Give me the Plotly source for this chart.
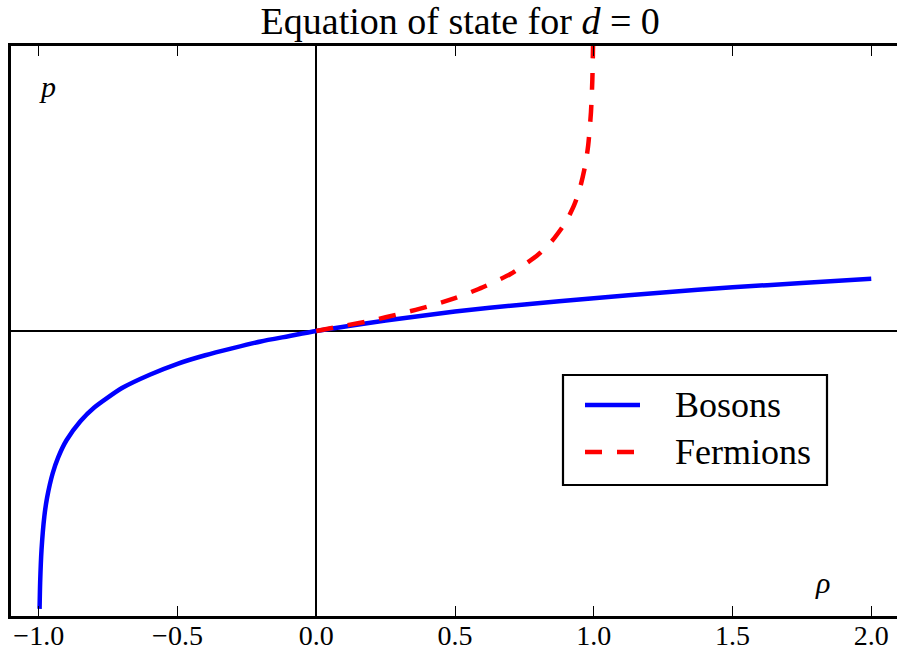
import plotly.graph_objects as go

# Equation of state p(rho) for d = 0
boson_rho = [-0.997, -0.995, -0.99, -0.98, -0.97, -0.95, -0.93, -0.90, -0.85, -0.80,
             -0.70, -0.60, -0.50, -0.40, -0.30, -0.20, -0.10, 0.0, 0.25, 0.50,
             0.75, 1.00, 1.25, 1.50, 1.75, 2.00]
boson_p = [-5.85, -5.30, -4.61, -3.91, -3.51, -3.00, -2.66, -2.30, -1.90, -1.61,
           -1.20, -0.92, -0.69, -0.51, -0.36, -0.22, -0.11, 0.0, 0.22, 0.41,
           0.56, 0.69, 0.81, 0.92, 1.01, 1.10]

fermion_rho = [0.0, 0.10, 0.20, 0.30, 0.40, 0.50, 0.60, 0.70, 0.80, 0.85,
               0.90, 0.93, 0.95, 0.97, 0.98, 0.99, 0.995, 0.998]
fermion_p = [0.0, 0.11, 0.22, 0.36, 0.51, 0.69, 0.92, 1.20, 1.61, 1.90,
             2.30, 2.66, 3.00, 3.51, 3.91, 4.61, 5.30, 6.21]

x_ticks = [-1.0, -0.5, 0.0, 0.5, 1.0, 1.5, 2.0]
x_tick_text = ["\u22121.0", "\u22120.5", "0.0", "0.5", "1.0", "1.5", "2.0"]

series_names = ["Bosons", "Fermions"]
series_colors = ["#0000ff", "#ff0000"]
series_dash = ["solid", "17px,15px"]

SERIF = "'Liberation Serif', 'DejaVu Serif', serif"
W, H = 897, 652
L, T, B = 11, 46, 36
LINE_W = 4.5

fig = go.Figure()
for name, xs, ys, color, dash in zip(series_names,
                                     [boson_rho, fermion_rho],
                                     [boson_p, fermion_p],
                                     series_colors, series_dash):
    fig.add_trace(go.Scatter(
        x=xs, y=ys, mode="lines", name=name, showlegend=False,
        line=dict(color=color, width=LINE_W, dash=dash, shape="spline", smoothing=0.6),
    ))

fig.update_layout(
    width=W, height=H,
    margin=dict(l=L, r=0, t=T, b=B, autoexpand=False),
    paper_bgcolor="white", plot_bgcolor="white",
    font=dict(family=SERIF, color="black"),
    title=dict(
        text="Equation of state for <i>d</i> = 0",
        x=0.507, xanchor="center", xref="paper",
        y=1 - 21 / H, yanchor="middle", yref="container",
        font=dict(size=38, family=SERIF, color="black"),
    ),
    showlegend=False,
)

fig.update_xaxes(
    range=[-1.1, -1.1 + (W - L) / 277.5],
    tickvals=x_ticks, ticktext=x_tick_text,
    ticks="inside", ticklen=10, tickwidth=1.2, tickcolor="black",
    showline=True, linecolor="black", linewidth=2.6, mirror="allticks",
    showgrid=False, automargin=False, ticklabelstandoff=-7,
    zeroline=True, zerolinecolor="black", zerolinewidth=2.4,
    tickfont=dict(size=28, family=SERIF, color="black"),
)
fig.update_yaxes(
    range=[-6, 6],
    showticklabels=False, ticks="",
    showline=True, linecolor="black", linewidth=2.6, mirror=False,
    showgrid=False, automargin=False,
    zeroline=True, zerolinecolor="black", zerolinewidth=2.4,
)

# axis-name labels inside the plot
fig.add_annotation(x=-1.005, y=5.15, xref="x", yref="y", text="<i>p</i>",
                   showarrow=False, xanchor="left", yanchor="middle",
                   font=dict(size=30, family=SERIF, color="black"))
fig.add_annotation(x=1.79, y=-5.3, xref="x", yref="y", text="<i>\u03c1</i>",
                   showarrow=False, xanchor="left", yanchor="middle",
                   font=dict(size=30, family=SERIF, color="black"))

# legend box with line samples, in paper coordinates
pw, ph = W - L, H - T - B
def px(xp):
    return (xp - L) / pw
def py(yp):
    return 1 - (yp - T) / ph

fig.add_shape(type="rect", xref="paper", yref="paper",
              x0=px(563), x1=px(827), y0=py(485), y1=py(375),
              line=dict(color="black", width=2.2), fillcolor="white", layer="above")
for i, (name, color, dash) in enumerate(zip(series_names, series_colors, series_dash)):
    yy = 405 + 47 * i
    fig.add_shape(type="line", xref="paper", yref="paper",
                  x0=px(585), x1=px(640), y0=py(yy), y1=py(yy),
                  line=dict(color=color, width=LINE_W, dash=dash), layer="above")
    fig.add_annotation(x=px(673), y=py(yy), xref="paper", yref="paper", text=name,
                       showarrow=False, xanchor="left", yanchor="middle",
                       font=dict(size=36, family=SERIF, color="black"))

fig.write_html("out.html")
